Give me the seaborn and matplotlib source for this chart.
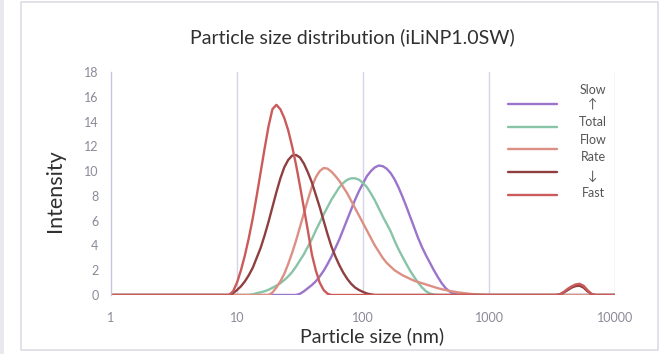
import numpy as np
import pandas as pd
import matplotlib
matplotlib.use("Agg")
import matplotlib.pyplot as plt
from matplotlib.patches import Rectangle
import seaborn as sns

# size bins (nm), 32 per decade
sizes = [1.000, 1.075, 1.155, 1.241, 1.334, 1.433, 1.540, 1.655, 1.778, 1.911, 2.054, 2.207, 2.371, 2.548, 2.738, 2.943,
         3.162, 3.398, 3.652, 3.924, 4.217, 4.532, 4.870, 5.233, 5.623, 6.043, 6.494, 6.978, 7.499, 8.058, 8.660, 9.306,
         10.00, 10.75, 11.55, 12.41, 13.34, 14.33, 15.40, 16.55, 17.78, 19.11, 20.54, 22.07, 23.71, 25.48, 27.38, 29.43,
         31.62, 33.98, 36.52, 39.24, 42.17, 45.32, 48.70, 52.33, 56.23, 60.43, 64.94, 69.78, 74.99, 80.58, 86.60, 93.06,
         100.0, 107.5, 115.5, 124.1, 133.4, 143.3, 154.0, 165.5, 177.8, 191.1, 205.4, 220.7, 237.1, 254.8, 273.8, 294.3,
         316.2, 339.8, 365.2, 392.4, 421.7, 453.2, 487.0, 523.3, 562.3, 604.3, 649.4, 697.8, 749.9, 805.8, 866.0, 930.6,
         1000, 1075, 1155, 1241, 1334, 1433, 1540, 1655, 1778, 1911, 2054, 2207, 2371, 2548, 2738, 2943,
         3162, 3398, 3652, 3924, 4217, 4532, 4870, 5233, 5623, 6043, 6494, 6978, 7499, 8058, 8660, 9306,
         10000]

# intensity per run, slowest to fastest total flow rate
slow = [0] * 47 + \
    [0, 0.1, 0.3, 0.55, 0.8, 1.1, 1.5, 1.95, 2.5, 3.1, 3.8, 4.5, 5.3, 6.1, 6.9,
     7.7, 8.4, 9.0, 9.6, 10.0, 10.3, 10.45, 10.4, 10.2, 9.85, 9.35, 8.7, 7.95, 7.15, 6.3,
     5.45, 4.6, 3.85, 3.2, 2.6, 2.0, 1.45, 0.95, 0.55, 0.28, 0.1, 0.03, 0] + \
    [0] * 39
total = [0] * 35 + \
    [0, 0.05, 0.15, 0.22, 0.3, 0.42, 0.58, 0.75, 0.95, 1.2, 1.5, 1.85, 2.3, 2.8, 3.3,
     3.9, 4.5, 5.2, 5.85, 6.5, 7.1, 7.7, 8.2, 8.7, 9.05, 9.3, 9.42, 9.42, 9.3, 9.05,
     8.7, 8.2, 7.65, 7.0, 6.35, 5.75, 5.15, 4.4, 3.7, 3.1, 2.5, 1.95, 1.45, 1.0, 0.6,
     0.3, 0.12, 0.03, 0] + \
    [0] * 45
flow = [0] * 40 + \
    [0, 0.2, 0.6, 1.1, 1.7, 2.5, 3.4, 4.4, 5.5, 6.6, 7.7, 8.7, 9.5, 10.0, 10.25,
     10.2, 9.95, 9.6, 9.2, 8.7, 8.2, 7.6, 7.0, 6.4, 5.8, 5.2, 4.6, 4.0, 3.5, 3.0,
     2.6, 2.3, 2.0, 1.8, 1.6, 1.45, 1.3, 1.15, 1.05, 0.95, 0.85, 0.75, 0.65, 0.55, 0.47,
     0.4, 0.33, 0.28, 0.22, 0.18, 0.14, 0.1, 0.07, 0.05, 0.03, 0.01, 0] + \
    [0] * 32
rate = [0] * 30 + \
    [0, 0.15, 0.4, 0.7, 1.1, 1.6, 2.2, 3.0, 3.8, 4.8, 5.9, 7.1, 8.3, 9.4, 10.3,
     10.9, 11.25, 11.3, 11.1, 10.6, 9.9, 9.1, 8.1, 7.1, 6.0, 4.9, 3.9, 3.1, 2.4, 1.8,
     1.3, 0.9, 0.6, 0.4, 0.25, 0.12, 0.05, 0] + \
    [0] * 46 + \
    [0.05, 0.2, 0.4, 0.6, 0.72, 0.75, 0.6, 0.3, 0.08, 0] + \
    [0] * 5
fast = [0] * 30 + \
    [0, 0.3, 1.0, 2.0, 3.2, 4.6, 6.2, 8.0, 9.9, 11.8, 13.6, 15.0, 15.35, 15.0, 14.3,
     13.3, 12.0, 10.5, 8.8, 7.0, 5.2, 3.3, 2.0, 1.0, 0.4, 0.1, 0] + \
    [0] * 57 + \
    [0.05, 0.25, 0.5, 0.7, 0.85, 0.9, 0.75, 0.4, 0.1, 0] + \
    [0] * 5

series_names = ["slow", "total", "flow", "rate", "fast"]
colors = ["#9b74cb", "#88c4a7", "#dc9084", "#8f3f3f", "#cb5a5a"]

df = pd.DataFrame({"size": sizes, "slow": slow, "total": total,
                   "flow": flow, "rate": rate, "fast": fast})
long = df.melt(id_vars="size", var_name="run", value_name="intensity")

sns.set_style("white")
plt.rcParams["font.family"] = ["Lato", "DejaVu Sans"]

fig = plt.figure(figsize=(6.64, 3.54), dpi=100)
ax = fig.add_axes([111 / 664, 59 / 354, 504 / 664, 223 / 354])

sns.lineplot(data=long, x="size", y="intensity", hue="run", hue_order=series_names,
             palette=colors, estimator=None, sort=False, linewidth=1.7, legend=False, ax=ax)

ax.set_xscale("log")
ax.set_xlim(1, 10000)
ax.set_ylim(0, 18)
ax.set_yticks(range(0, 19, 2))
ax.set_xticks([1, 10, 100, 1000, 10000])
ax.set_xticklabels(["1", "10", "100", "1000", "10000"])
ax.minorticks_off()

for s in ["top", "right", "bottom"]:
    ax.spines[s].set_visible(False)
ax.spines["left"].set_color("#c3c6e0")
ax.spines["left"].set_linewidth(1.0)
for xv in [10, 100, 1000, 10000]:
    ax.axvline(xv, color="#d3d5ea", linewidth=1.0, zorder=0)

ax.tick_params(axis="both", length=0, labelsize=9, labelcolor="#8a8a98")
ax.tick_params(axis="y", pad=9)
ax.tick_params(axis="x", pad=12)

ax.set_title("Particle size distribution (iLiNP1.0SW)", fontsize=14, color="#303030",
             pad=21, x=0.479)
ax.set_xlabel("Particle size (nm)", fontsize=14, color="#303030")
ax.xaxis.set_label_coords(0.518, -0.145)
ax.set_ylabel("Intensity", fontsize=15.5, color="#303030")
ax.yaxis.set_label_coords(-0.091, 0.47)

handles = ax.get_lines()[:5]
leg = ax.legend(handles, [""] * 5, loc="upper left", bbox_to_anchor=(502 / 664, 1 - 92 / 354),
                bbox_transform=fig.transFigure, frameon=False, handlelength=3.9,
                labelspacing=0.86, fontsize=9, borderpad=0, handletextpad=0)

legend_words = ["Slow", "\u2191", "Total", "Flow", "Rate", "\u2193", "Fast"]
word_y = [90, 104, 122, 140, 157, 176, 193]
for w, yy in zip(legend_words, word_y):
    fig.text(593 / 664, 1 - yy / 354, w, ha="center", va="center", fontsize=9,
             color="#555555", family=["Lato", "DejaVu Sans"])

fig.patches.append(Rectangle((21 / 664, 4 / 354), 637 / 664, 348 / 354, transform=fig.transFigure,
                             fill=False, edgecolor="#dcdce6", linewidth=1.2))
fig.patches.append(Rectangle((0, 0), 4 / 664, 1, transform=fig.transFigure,
                             facecolor="#e8e8ee", edgecolor="none"))

fig.savefig("out.png", dpi=100)
